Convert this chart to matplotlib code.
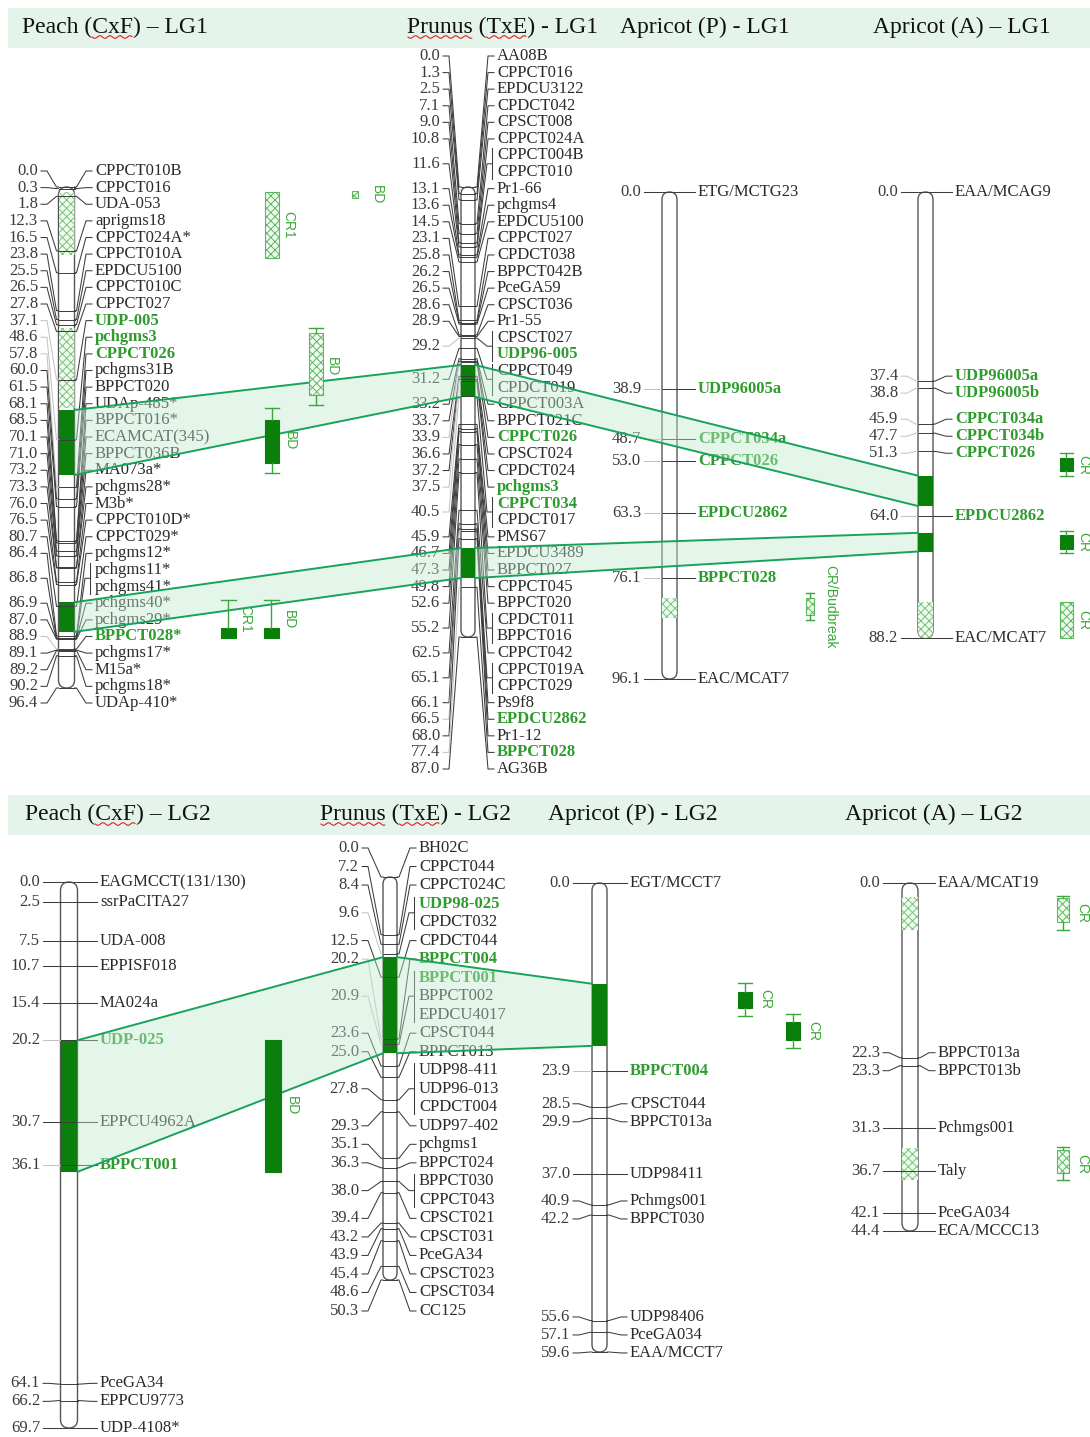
import numpy as np
import matplotlib
matplotlib.use("Agg")
import matplotlib.pyplot as plt
from matplotlib.patches import Rectangle, FancyBboxPatch, Polygon
from matplotlib.textpath import TextPath
from matplotlib.font_manager import FontProperties

plt.rcParams['hatch.linewidth'] = 0.7

# ---------------- data: marker positions (cM) and marker names ----------------
peach_lg1_cm = [0.0, 0.3, 1.8, 12.3, 16.5, 23.8, 25.5, 26.5, 27.8, 37.1, 48.6, 57.8, 60.0,
                61.5, 68.1, 68.5, 70.1, 71.0, 73.2, 73.3, 76.0, 76.5, 80.7, 86.4, 86.8, 86.8,
                86.9, 87.0, 88.9, 89.1, 89.2, 90.2, 96.4]
peach_lg1_names = ["CPPCT010B", "CPPCT016", "UDA-053", "aprigms18", "CPPCT024A*", "CPPCT010A",
                   "EPDCU5100", "CPPCT010C", "CPPCT027", "UDP-005", "pchgms3", "CPPCT026",
                   "pchgms31B", "BPPCT020", "UDAp-485*", "BPPCT016*", "ECAMCAT(345)", "BPPCT036B",
                   "MA073a*", "pchgms28*", "M3b*", "CPPCT010D*", "CPPCT029*", "pchgms12*",
                   "pchgms11*", "pchgms41*", "pchgms40*", "pchgms29*", "BPPCT028*", "pchgms17*",
                   "M15a*", "pchgms18*", "UDAp-410*"]

prunus_lg1_cm = [0.0, 1.3, 2.5, 7.1, 9.0, 10.8, 11.6, 11.6, 13.1, 13.6, 14.5, 23.1, 25.8, 26.2,
                 26.5, 28.6, 28.9, 29.2, 29.2, 31.2, 31.2, 33.2, 33.7, 33.9, 36.6, 37.2, 37.5,
                 40.5, 40.5, 45.9, 46.7, 47.3, 49.8, 52.6, 55.2, 55.2, 62.5, 65.1, 65.1, 66.1,
                 66.5, 68.0, 77.4, 87.0]
prunus_lg1_names = ["AA08B", "CPPCT016", "EPDCU3122", "CPDCT042", "CPSCT008", "CPPCT024A",
                    "CPPCT004B", "CPPCT010", "Pr1-66", "pchgms4", "EPDCU5100", "CPPCT027",
                    "CPDCT038", "BPPCT042B", "PceGA59", "CPSCT036", "Pr1-55", "CPSCT027",
                    "UDP96-005", "CPPCT049", "CPDCT019", "CPPCT003A", "BPPCT021C", "CPPCT026",
                    "CPSCT024", "CPDCT024", "pchgms3", "CPPCT034", "CPDCT017", "PMS67",
                    "EPDCU3489", "BPPCT027", "CPPCT045", "BPPCT020", "CPDCT011", "BPPCT016",
                    "CPPCT042", "CPPCT019A", "CPPCT029", "Ps9f8", "EPDCU2862", "Pr1-12",
                    "BPPCT028", "AG36B"]

apricotP_lg1_cm = [0.0, 38.9, 48.7, 53.0, 63.3, 76.1, 96.1]
apricotP_lg1_names = ["ETG/MCTG23", "UDP96005a", "CPPCT034a", "CPPCT026", "EPDCU2862",
                      "BPPCT028", "EAC/MCAT7"]

apricotA_lg1_cm = [0.0, 37.4, 38.8, 45.9, 47.7, 51.3, 64.0, 88.2]
apricotA_lg1_names = ["EAA/MCAG9", "UDP96005a", "UDP96005b", "CPPCT034a", "CPPCT034b",
                      "CPPCT026", "EPDCU2862", "EAC/MCAT7"]

peach_lg2_cm = [0.0, 2.5, 7.5, 10.7, 15.4, 20.2, 30.7, 36.1, 64.1, 66.2, 69.7]
peach_lg2_names = ["EAGMCCT(131/130)", "ssrPaCITA27", "UDA-008", "EPPISF018", "MA024a",
                   "UDP-025", "EPPCU4962A", "BPPCT001", "PceGA34", "EPPCU9773", "UDP-4108*"]

prunus_lg2_cm = [0.0, 7.2, 8.4, 9.6, 9.6, 12.5, 20.2, 20.9, 20.9, 20.9, 23.6, 25.0, 27.8, 27.8,
                 27.8, 29.3, 35.1, 36.3, 38.0, 38.0, 39.4, 43.2, 43.9, 45.4, 48.6, 50.3]
prunus_lg2_names = ["BH02C", "CPPCT044", "CPPCT024C", "UDP98-025", "CPDCT032", "CPDCT044",
                    "BPPCT004", "BPPCT001", "BPPCT002", "EPDCU4017", "CPSCT044", "BPPCT013",
                    "UDP98-411", "UDP96-013", "CPDCT004", "UDP97-402", "pchgms1", "BPPCT024",
                    "BPPCT030", "CPPCT043", "CPSCT021", "CPSCT031", "PceGA34", "CPSCT023",
                    "CPSCT034", "CC125"]

apricotP_lg2_cm = [0.0, 23.9, 28.5, 29.9, 37.0, 40.9, 42.2, 55.6, 57.1, 59.6]
apricotP_lg2_names = ["EGT/MCCT7", "BPPCT004", "CPSCT044", "BPPCT013a", "UDP98411", "Pchmgs001",
                      "BPPCT030", "UDP98406", "PceGA034", "EAA/MCCT7"]

apricotA_lg2_cm = [0.0, 22.3, 23.3, 31.3, 36.7, 42.1, 44.4]
apricotA_lg2_names = ["EAA/MCAT19", "BPPCT013a", "BPPCT013b", "Pchmgs001", "Taly", "PceGA034",
                      "ECA/MCCC13"]

# markers printed in green bold
highlighted = {"UDP-005", "pchgms3", "CPPCT026", "BPPCT028*", "UDP96-005", "CPPCT034",
               "EPDCU2862", "BPPCT028", "UDP96005a", "UDP96005b", "CPPCT034a", "CPPCT034b",
               "UDP-025", "BPPCT001", "UDP98-025", "BPPCT004"}

maps = {
    "peach_lg1": (peach_lg1_cm, peach_lg1_names),
    "prunus_lg1": (prunus_lg1_cm, prunus_lg1_names),
    "apricotP_lg1": (apricotP_lg1_cm, apricotP_lg1_names),
    "apricotA_lg1": (apricotA_lg1_cm, apricotA_lg1_names),
    "peach_lg2": (peach_lg2_cm, peach_lg2_names),
    "prunus_lg2": (prunus_lg2_cm, prunus_lg2_names),
    "apricotP_lg2": (apricotP_lg2_cm, apricotP_lg2_names),
    "apricotA_lg2": (apricotA_lg2_cm, apricotA_lg2_names),
}

# QTL intervals drawn on the chromosome bars (cM start, cM end, kind)
qtl_on_bar = {
    "peach_lg1": [(1.0, 13.1, "hatch"), (27.1, 42.5, "hatch"), (42.9, 55.4, "solid"), (79.9, 85.6, "solid")],
    "prunus_lg1": [(34.4, 40.6, "solid"), (69.8, 75.6, "solid")],
    "apricotP_lg1": [(80.1, 84.0, "hatch")],
    "apricotA_lg1": [(56.1, 62.1, "solid"), (67.4, 71.1, "solid"), (81.0, 88.2, "hatch")],
    "peach_lg2": [(20.2, 37.0, "solid")],
    "prunus_lg2": [(10.0, 22.0, "solid")],
    "apricotP_lg2": [(12.8, 20.7, "solid")],
    "apricotA_lg2": [(1.8, 6.0, "hatch"), (33.8, 37.9, "hatch")],
}

# QTL bars beside the maps: (map, box start, box end, whisker start, whisker end, kind, trait)
side_qtls = [
    ("peach_lg1", 1.0, 13.7, None, None, "hatch", "CR1"),
    ("peach_lg1", 0.8, 2.2, None, None, "hatch", "BD"),
    ("peach_lg1", 28.1, 40.0, 27.1, 41.9, "hatch", "BD"),
    ("peach_lg1", 44.8, 53.1, 42.5, 55.0, "solid", "BD"),
    ("peach_lg1", 84.9, 86.8, 79.5, 86.8, "solid", "CR1"),
    ("peach_lg1", 84.9, 86.8, 79.5, 86.8, "solid", "BD"),
    ("apricotP_lg1", 80.1, 83.5, 79.1, 84.5, "hatch", "CR/Budbreak"),
    ("apricotA_lg1", 52.6, 55.2, 51.6, 56.2, "solid", "CR"),
    ("apricotA_lg1", 67.8, 70.6, 67.0, 71.4, "solid", "CR"),
    ("apricotA_lg1", 81.1, 88.2, None, None, "hatch", "CR"),
    ("peach_lg2", 20.2, 37.0, None, None, "solid", "BD"),
    ("apricotP_lg2", 13.9, 15.9, 12.7, 16.9, "solid", "CR"),
    ("apricotP_lg2", 17.7, 20.0, 16.6, 21.0, "solid", "CR"),
    ("apricotA_lg2", 1.9, 5.0, 1.7, 6.0, "hatch", "CR"),
    ("apricotA_lg2", 34.1, 37.0, 33.7, 37.9, "hatch", "CR"),
]

# conserved regions joined between maps: (map, qtl index) -> (map, qtl index)
bands = [
    (("peach_lg1", 2), ("prunus_lg1", 0)),
    (("prunus_lg1", 0), ("apricotA_lg1", 0)),
    (("peach_lg1", 3), ("prunus_lg1", 1)),
    (("prunus_lg1", 1), ("apricotA_lg1", 1)),
    (("peach_lg2", 0), ("prunus_lg2", 0)),
    (("prunus_lg2", 0), ("apricotP_lg2", 0)),
]

titles_lg1 = ["Peach (CxF) – LG1", "Prunus (TxE) - LG1", "Apricot (P) - LG1", "Apricot (A) – LG1"]
titles_lg2 = ["Peach (CxF) – LG2", "Prunus (TxE) - LG2", "Apricot (P) - LG2", "Apricot (A) – LG2"]
underlined = [["CxF"], ["Prunus", "TxE"], [], []]

# ---------------- layout (pixels) ----------------
layout = {
    "peach_lg1": dict(cx=66.5, w=16, top=187, bot=688, num_x=38, lab_x=95, d=16.6, span=(171, 703)),
    "prunus_lg1": dict(cx=468, w=14, top=187, bot=637, num_x=440, lab_x=497, d=16.6, span=(56, 769)),
    "apricotP_lg1": dict(cx=669.5, w=15, top=192, bot=679, num_x=641, lab_x=698, d=17),
    "apricotA_lg1": dict(cx=925.5, w=15, top=192, bot=638, num_x=898, lab_x=955, d=17),
    "peach_lg2": dict(cx=69, w=17, top=882, bot=1428, num_x=40, lab_x=100, d=18),
    "prunus_lg2": dict(cx=390, w=14, top=877, bot=1280, num_x=359, lab_x=419, d=18.5, span=(848, 1311)),
    "apricotP_lg2": dict(cx=599.5, w=15, top=883, bot=1352, num_x=570, lab_x=630, d=18),
    "apricotA_lg2": dict(cx=910, w=16, top=883, bot=1231, num_x=880, lab_x=938, d=18),
}
side_layout = [(272, 14, 16), (355, 6, 22), (316, 14, 16), (272, 14, 18), (228, 15, 17),
               (271, 15, 18), (810, 8, 20), (1066, 13, 17), (1066, 13, 17), (1066, 13, 17),
               (273, 16, 19), (745, 14, 20), (793, 14, 20), (1063, 12, 19), (1063, 12, 19)]
title_x_lg1 = [22, 407, 620, 873]
title_x_lg2 = [25, 320, 548, 845]

DARK = "#0b7f0b"
GREEN_TXT = "#2f9b2f"
HATCH_EC = "#74c474"
BAND_LINE = "#17a35a"
SERIF = "Liberation Serif"
FS = 12

fig = plt.figure(figsize=(10.9, 14.37), dpi=100)
ax = fig.add_axes([0, 0, 1, 1])
ax.set_xlim(0, 1090)
ax.set_ylim(1437, 0)
ax.axis("off")


def ymap(key, cm):
    L = layout[key]
    length = max(maps[key][0])
    return L["top"] + (L["bot"] - L["top"]) * cm / length


def spread(targets, d):
    groups = [[i] for i in range(len(targets))]

    def center(g):
        return np.mean([targets[i] for i in g])
    merged = True
    while merged:
        merged = False
        for k in range(len(groups) - 1):
            g1, g2 = groups[k], groups[k + 1]
            b1 = center(g1) + (len(g1) - 1) / 2 * d
            t2 = center(g2) - (len(g2) - 1) / 2 * d
            if t2 - b1 < d - 1e-9:
                groups[k] = g1 + g2
                del groups[k + 1]
                merged = True
                break
    out = []
    for g in groups:
        c = center(g)
        for j, i in enumerate(g):
            out.append(c + (j - (len(g) - 1) / 2) * d)
    return out


# header bands and titles
fp_title = FontProperties(family=SERIF, size=17)


def text_w(s):
    return TextPath((0, 0), s, prop=fp_title).get_extents().x1 * 100 / 72


for ytop, titles, xs in [(8, titles_lg1, title_x_lg1), (795, titles_lg2, title_x_lg2)]:
    ax.add_patch(Rectangle((8, ytop), 1082, 40, fc="#e4f4ea", ec="none", zorder=0))
    for t, x, subs in zip(titles, xs, underlined):
        ax.text(x, ytop + 19, t, fontproperties=fp_title, va="center", ha="left", color="#111", zorder=1)
        for s in subs:
            i = t.index(s)
            x0 = x + (text_w(t[:i]) if i else 0) + 1
            x1 = x + text_w(t[:i + len(s)])
            wx = np.linspace(x0, x1, 60)
            ax.plot(wx, ytop + 29 + 1.3 * np.sin((wx - x0) / 1.6), color="#e02020", lw=0.8, zorder=1)

# chromosomes
for key, (cms, names) in maps.items():
    L = layout[key]
    x0, x1 = L["cx"] - L["w"] / 2, L["cx"] + L["w"] / 2
    bar = FancyBboxPatch((x0, L["top"]), L["w"], L["bot"] - L["top"],
                         boxstyle=f"round,pad=0,rounding_size={L['w'] / 2}",
                         fc="white", ec="#555555", lw=1.0, zorder=2)
    ax.add_patch(bar)
    for a, b, kind in qtl_on_bar[key]:
        ya, yb = ymap(key, a), ymap(key, b)
        if kind == "solid":
            r = Rectangle((x0, ya), L["w"], yb - ya, fc=DARK, ec="none", zorder=2.5)
        else:
            r = Rectangle((x0, ya), L["w"], yb - ya, fc="#f2fbf2", ec=HATCH_EC, hatch="xxxx",
                          lw=0, zorder=2.5)
        ax.add_patch(r)
        r.set_clip_path(bar)

    my_all = [ymap(key, c) for c in cms]
    if "span" in L:
        ry = list(np.linspace(L["span"][0], L["span"][1], len(cms)))
    else:
        ry = spread(my_all, L["d"])

    # group markers sharing a position
    groups = []
    for i, c in enumerate(cms):
        if groups and cms[groups[-1][0]] == c:
            groups[-1].append(i)
        else:
            groups.append([i])

    for g in groups:
        c = cms[g[0]]
        my = ymap(key, c)
        ly = np.mean([ry[i] for i in g])
        hl = any(names[i] in highlighted for i in g)
        lcol = "#c4c4c4" if hl else "#3c3c3c"
        ax.plot([L["num_x"] + 3, L["num_x"] + 9, x0 - 2, x0], [ly, ly, my, my],
                color=lcol, lw=0.75, zorder=3)
        ax.plot([x0, x1], [my, my], color="#3c3c3c", lw=0.7, zorder=3)
        ax.text(L["num_x"], ly, f"{c:.1f}", family=SERIF, size=FS, ha="right", va="center",
                color="#3a3a3a", zorder=4)
        if len(g) == 1:
            ax.plot([x1, x1 + 2, L["lab_x"] - 9, L["lab_x"] - 3], [my, my, ly, ly],
                    color="#3c3c3c", lw=0.75, zorder=3)
        else:
            bx = L["lab_x"] - 5
            ax.plot([x1, x1 + 2, L["lab_x"] - 10, bx], [my, my, ly, ly],
                    color="#3c3c3c", lw=0.75, zorder=3)
            ax.plot([bx, bx], [ry[g[0]] - 7, ry[g[-1]] + 7], color="#3c3c3c", lw=0.75, zorder=3)
        for i in g:
            if names[i] in highlighted:
                ax.text(L["lab_x"], ry[i], names[i], family=SERIF, size=FS, weight="bold",
                        ha="left", va="center", color=GREEN_TXT, zorder=4)
            else:
                ax.text(L["lab_x"], ry[i], names[i], family=SERIF, size=FS, ha="left",
                        va="center", color="#2a2a2a", zorder=4)

# side QTL bars (drawn above the bands)
for (key, a, b, wa, wb, kind, trait), (sx, sw, dx) in zip(side_qtls, side_layout):
    ya, yb = ymap(key, a), ymap(key, b)
    if kind == "solid":
        ax.add_patch(Rectangle((sx - sw / 2, ya), sw, yb - ya, fc=DARK, ec=DARK, lw=0.8, zorder=7))
    else:
        ax.add_patch(Rectangle((sx - sw / 2, ya), sw, yb - ya, fc="#f2fbf2", ec="#5cb85c",
                               hatch="xxxx", lw=0.8, zorder=7))
    lo, hi = ya, yb
    if wa is not None:
        lo, hi = ymap(key, wa), ymap(key, wb)
        for yw, ye in [(lo, ya), (hi, yb)]:
            if abs(yw - ye) > 0.5:
                ax.plot([sx, sx], [yw, ye], color="#3da53d", lw=1.0, zorder=7)
                ax.plot([sx - sw / 2, sx + sw / 2], [yw, yw], color="#3da53d", lw=1.0, zorder=7)
    ax.text(sx + dx, (lo + hi) / 2, trait, family="Liberation Sans", size=10, rotation=-90,
            ha="center", va="center", color="#3aa83a", zorder=7)

# conserved-region bands
for (ka, ia), (kb, ib) in bands:
    a0, a1 = qtl_on_bar[ka][ia][:2]
    b0, b1 = qtl_on_bar[kb][ib][:2]
    xa = layout[ka]["cx"] + layout[ka]["w"] / 2
    xb = layout[kb]["cx"] - layout[kb]["w"] / 2
    pa = (ymap(ka, a0), ymap(ka, a1))
    pb = (ymap(kb, b0), ymap(kb, b1))
    ax.add_patch(Polygon([(xa, pa[0]), (xb, pb[0]), (xb, pb[1]), (xa, pa[1])],
                         closed=True, fc="#bfe8cf", alpha=0.42, ec="none", zorder=5))
    ax.plot([xa, xb], [pa[0], pb[0]], color=BAND_LINE, lw=1.4, zorder=6)
    ax.plot([xa, xb], [pa[1], pb[1]], color=BAND_LINE, lw=1.4, zorder=6)

fig.savefig("out.png", dpi=100)
